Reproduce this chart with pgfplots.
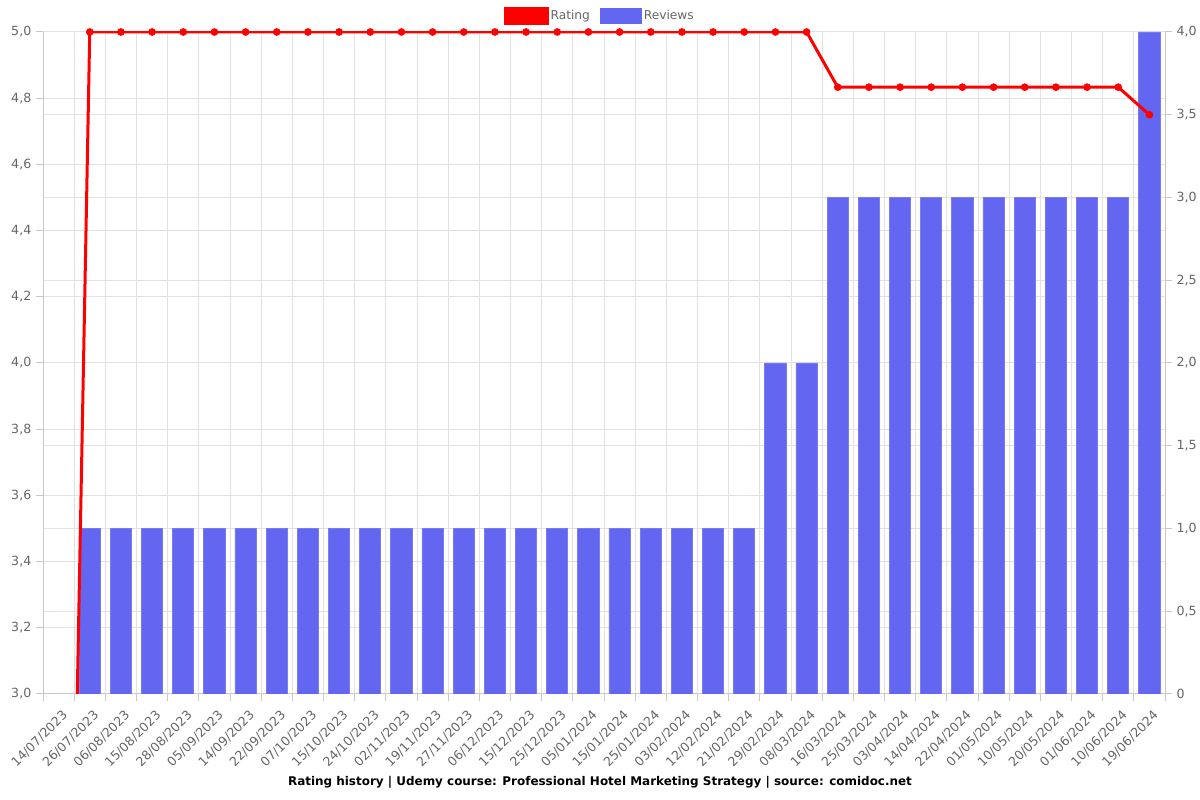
\documentclass[border=0pt]{standalone}
\usepackage{pgfplots}
\pgfplotsset{compat=1.18}
\usepackage{pgfplotstable}
\usepackage{fontspec}
\setmainfont{DejaVu Sans}
\definecolor{barblue}{RGB}{99,102,241}
\definecolor{baredge}{RGB}{120,123,245}
\definecolor{linered}{RGB}{255,0,0}
\definecolor{gridgray}{RGB}{226,226,226}
\definecolor{axisgray}{RGB}{200,200,200}
\definecolor{ticktext}{RGB}{102,102,102}

\pgfplotstableread{
idx rating
0 0
1 5
2 5
3 5
4 5
5 5
6 5
7 5
8 5
9 5
10 5
11 5
12 5
13 5
14 5
15 5
16 5
17 5
18 5
19 5
20 5
21 5
22 5
23 5
24 5
25 4.8333
26 4.8333
27 4.8333
28 4.8333
29 4.8333
30 4.8333
31 4.8333
32 4.8333
33 4.8333
34 4.8333
35 4.75
}\ratingtable

\pgfplotstableread{
idx reviews
1 1
2 1
3 1
4 1
5 1
6 1
7 1
8 1
9 1
10 1
11 1
12 1
13 1
14 1
15 1
16 1
17 1
18 1
19 1
20 1
21 1
22 1
23 2
24 2
25 3
26 3
27 3
28 3
29 3
30 3
31 3
32 3
33 3
34 3
35 4
}\reviewtable

\pgfplotsset{
  common/.style={
    set layers,
    scale only axis,
    width=841.5bp, height=496.5bp,
    xmin=-0.5, xmax=35.5,
    tick label style={font=\fontsize{9.5}{11}\selectfont, text=ticktext},
    tick style={draw=axisgray, line width=0.75bp},
    major tick length=5.25bp,
    tick align=outside,
    grid style={draw=gridgray, line width=0.75bp},
    axis line style={draw=axisgray, line width=0.75bp},
  }
}

\begin{document}
\begin{tikzpicture}
% Reviews (bars), right axis
\begin{axis}[
  common,
  name=ax,
  axis x line*=bottom,
  axis y line*=right,
  ymin=0, ymax=4,
  ytick={0,0.5,1,1.5,2,2.5,3,3.5,4},
  yticklabels={0,0{,}5,1{,}0,1{,}5,2{,}0,2{,}5,3{,}0,3{,}5,4{,}0},
  ymajorgrids=true,
  xtick={0,...,35},
  xticklabels={14/07/2023,26/07/2023,06/08/2023,15/08/2023,28/08/2023,05/09/2023,14/09/2023,22/09/2023,07/10/2023,15/10/2023,24/10/2023,02/11/2023,19/11/2023,27/11/2023,06/12/2023,15/12/2023,25/12/2023,05/01/2024,15/01/2024,25/01/2024,03/02/2024,12/02/2024,21/02/2024,29/02/2024,08/03/2024,16/03/2024,25/03/2024,03/04/2024,14/04/2024,22/04/2024,01/05/2024,10/05/2024,20/05/2024,01/06/2024,10/06/2024,19/06/2024},
  xticklabel style={rotate=45, anchor=north east, xshift=0.5bp, yshift=-2.5bp},
  major x tick style={draw=none},
  minor xtick={-0.5,0.5,...,35.5},
  minor tick length=5.25bp,
  minor x tick style={draw=axisgray, line width=0.75bp},
  xminorgrids=true,
  minor grid style={draw=gridgray, line width=0.75bp},
]
\addplot[ybar, bar width=0.68, fill=barblue, draw=baredge, line width=0.6bp, bar shift=0pt]
  table[x=idx, y=reviews] {\reviewtable};
\end{axis}
% Rating (line), left axis
\begin{axis}[
  common,
  axis x line=none,
  axis y line*=left,
  ymin=3, ymax=5,
  ytick={3,3.2,3.4,3.6,3.8,4,4.2,4.4,4.6,4.8,5},
  yticklabels={3{,}0,3{,}2,3{,}4,3{,}6,3{,}8,4{,}0,4{,}2,4{,}4,4{,}6,4{,}8,5{,}0},
  ymajorgrids=true,
  legend style={at={(axis description cs:0.5,1)}, anchor=center, yshift=12bp, xshift=-3bp,
    draw=none, fill=none, font=\fontsize{9.2}{10}\selectfont, text=ticktext,
    legend columns=2, nodes={inner sep=1.5bp},
    /tikz/every even column/.append style={column sep=6bp}},
]
\addplot[draw=linered, line width=2.25bp, mark=*, mark size=2.6bp,
  mark options={fill=linered, draw=linered, line width=0.5bp},
  mark indices={1,...,35},
  legend image code/.code={\fill[linered] (0bp,-5.5bp) rectangle (31bp,5.5bp);}]
  table[x=idx, y=rating] {\ratingtable};
\addlegendentry{Rating}
\addlegendimage{legend image code/.code={\fill[barblue] (0bp,-5.5bp) rectangle (31bp,5.5bp);}}
\addlegendentry{Reviews}
\end{axis}
\node[font=\bfseries\fontsize{9}{10}\selectfont, text=black] at ([xshift=-3bp, yshift=-66bp]ax.south) {Rating history | Udemy course: Professional Hotel Marketing Strategy | source: comidoc.net};
\pgfresetboundingbox
\useasboundingbox ([shift={(-32.25bp,-79.5bp)}]ax.south west) rectangle ([shift={(26.25bp,24bp)}]ax.north east);
\end{tikzpicture}
\end{document}
